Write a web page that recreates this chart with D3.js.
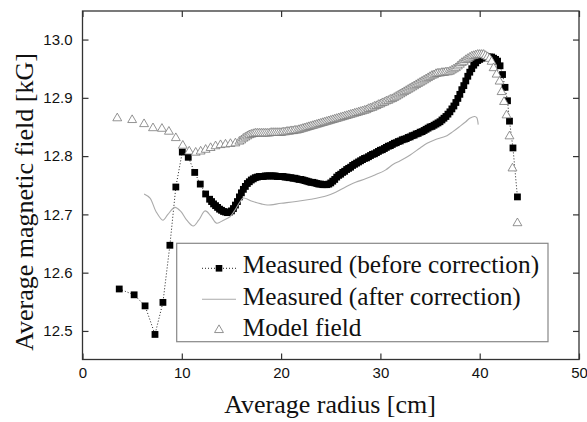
<!DOCTYPE html>
<html>
<head>
<meta charset="utf-8">
<script src="https://cdn.jsdelivr.net/npm/d3@7"></script>
<style>
  body { margin: 0; background: #fff; }
</style>
</head>
<body>
<div id="canvas"></div>
<script>
// Measured (before correction): radius [cm], field [kG]
const beforeR = [3.7, 5.2, 6.3, 7.3, 8.1, 8.8, 9.4, 10.05, 10.65, 11.3, 11.86, 12.4,
  12.8, 13.0, 13.2, 13.4, 13.6, 13.8, 14.0, 14.2, 14.4, 14.6, 14.8, 15.0, 15.2, 15.4, 15.6, 15.8,
  16.0, 16.2, 16.4, 16.6, 16.8, 17.0, 17.2, 17.4, 17.6, 17.8, 18.0, 18.2, 18.4, 18.6, 18.8,
  19.0, 19.2, 19.4, 19.6, 19.8, 20.0, 20.2, 20.4, 20.6, 20.8, 21.0, 21.2, 21.4, 21.6, 21.8,
  22.0, 22.2, 22.4, 22.6, 22.8, 23.0, 23.2, 23.4, 23.6, 23.8, 24.0, 24.2, 24.4, 24.6, 24.8,
  25.0, 25.2, 25.4, 25.6, 25.8, 26.0, 26.2, 26.4, 26.6, 26.8, 27.0, 27.2, 27.4, 27.6, 27.8,
  28.0, 28.2, 28.4, 28.6, 28.8, 29.0, 29.2, 29.4, 29.6, 29.8, 30.0, 30.2, 30.4, 30.6, 30.8,
  31.0, 31.2, 31.4, 31.6, 31.8, 32.0, 32.2, 32.4, 32.6, 32.8, 33.0, 33.2, 33.4, 33.6, 33.8,
  34.0, 34.2, 34.4, 34.6, 34.8, 35.0, 35.2, 35.4, 35.6, 35.8, 36.0, 36.2, 36.4, 36.6, 36.8,
  37.0, 37.2, 37.4, 37.6, 37.8, 38.0, 38.2, 38.4, 38.6, 38.8, 39.0, 39.2, 39.4, 39.6, 39.8,
  40.0, 40.2, 40.4, 40.6, 40.8, 41.0, 41.2, 41.4, 41.6, 41.8,
  42.05, 42.3, 42.55, 42.8, 43.0, 43.35, 43.8]
const beforeB = [12.572, 12.562, 12.543, 12.494, 12.549, 12.647, 12.747, 12.807, 12.798, 12.772, 12.752, 12.735,
  12.726, 12.722, 12.718, 12.715, 12.712, 12.709, 12.707, 12.705, 12.704, 12.703, 12.704, 12.706, 12.71, 12.716, 12.722, 12.73,
  12.737, 12.743, 12.748, 12.753, 12.756, 12.759, 12.761, 12.763, 12.764, 12.765, 12.765, 12.765, 12.766, 12.766, 12.766,
  12.766, 12.766, 12.766, 12.765, 12.765, 12.765, 12.765, 12.764, 12.764, 12.763, 12.763, 12.762, 12.762, 12.761, 12.76,
  12.76, 12.759, 12.758, 12.757, 12.756, 12.755, 12.755, 12.754, 12.753, 12.752, 12.752, 12.751, 12.751, 12.751, 12.752,
  12.754, 12.757, 12.76, 12.764, 12.767, 12.769, 12.772, 12.774, 12.777, 12.779, 12.781, 12.784, 12.786, 12.788, 12.79,
  12.792, 12.794, 12.796, 12.797, 12.799, 12.801, 12.803, 12.804, 12.806, 12.808, 12.81, 12.811, 12.813, 12.815, 12.817,
  12.818, 12.82, 12.822, 12.823, 12.825, 12.826, 12.828, 12.829, 12.83, 12.832, 12.833, 12.835, 12.836, 12.838, 12.839,
  12.841, 12.842, 12.844, 12.846, 12.848, 12.85, 12.851, 12.853, 12.855, 12.857, 12.859, 12.862, 12.865, 12.868, 12.872,
  12.876, 12.881, 12.886, 12.892, 12.899, 12.906, 12.914, 12.921, 12.929, 12.937, 12.944, 12.95, 12.956, 12.96, 12.964,
  12.966, 12.968, 12.969, 12.97, 12.97, 12.97, 12.97, 12.968, 12.966, 12.963,
  12.955, 12.94, 12.918, 12.895, 12.86, 12.814, 12.73]

// Measured (after correction)
const afterR = [6.2, 6.8, 7.4, 8.1, 8.6, 9.3, 9.9, 10.5, 11.15, 11.7, 12.35, 12.9, 13.5,
  14.2, 14.85, 15.3, 15.8, 16.2, 17.0, 18.0, 18.6, 20.0, 21.5, 23.0, 24.6, 25.5, 26.5,
  27.5, 28.5, 29.5, 30.5, 31.3, 32.0, 33.0, 34.0, 34.7, 35.5, 36.2, 36.7, 37.3, 38.0,
  38.6, 39.0, 39.5, 39.7, 39.85]
const afterB = [12.735, 12.728, 12.705, 12.69, 12.7, 12.712, 12.705, 12.69, 12.68, 12.69, 12.706, 12.698, 12.685,
  12.69, 12.696, 12.706, 12.72, 12.728, 12.723, 12.718, 12.716, 12.719, 12.722, 12.726, 12.732, 12.738, 12.747,
  12.755, 12.761, 12.768, 12.776, 12.786, 12.792, 12.802, 12.814, 12.822, 12.828, 12.832, 12.835, 12.842, 12.851,
  12.859, 12.865, 12.868, 12.866, 12.854]

// Model field
const modelR = [3.5, 5.0, 6.2, 7.1, 8.0, 8.7, 9.4, 10.1, 10.75, 11.4, 11.9, 12.4, 12.9,
  13.4, 13.9, 14.4, 14.9, 15.4, 15.8,
  16.0, 16.2, 16.4, 16.6, 16.8, 17.0, 17.2, 17.4, 17.6, 17.8, 18.0, 18.2, 18.4, 18.6, 18.8,
  19.0, 19.2, 19.4, 19.6, 19.8, 20.0, 20.2, 20.4, 20.6, 20.8, 21.0, 21.2, 21.4, 21.6, 21.8,
  22.0, 22.2, 22.4, 22.6, 22.8, 23.0, 23.2, 23.4, 23.6, 23.8, 24.0, 24.2, 24.4, 24.6, 24.8,
  25.0, 25.2, 25.4, 25.6, 25.8, 26.0, 26.2, 26.4, 26.6, 26.8, 27.0, 27.2, 27.4, 27.6, 27.8,
  28.0, 28.2, 28.4, 28.6, 28.8, 29.0, 29.2, 29.4, 29.6, 29.8, 30.0, 30.2, 30.4, 30.6, 30.8,
  31.0, 31.2, 31.4, 31.6, 31.8, 32.0, 32.2, 32.4, 32.6, 32.8, 33.0, 33.2, 33.4, 33.6, 33.8,
  34.0, 34.2, 34.4, 34.6, 34.8, 35.0, 35.2, 35.4, 35.6, 35.8, 36.0, 36.2, 36.4, 36.6, 36.8,
  37.0, 37.2, 37.4, 37.6, 37.8, 38.0, 38.2, 38.4, 38.6, 38.8, 39.0, 39.2, 39.4, 39.6, 39.8,
  40.0, 40.2, 40.4, 40.6, 40.8, 41.0, 41.2,
  41.4, 41.7, 42.0, 42.2, 42.45, 42.7, 43.0, 43.3, 43.8]
const modelB = [12.865, 12.862, 12.855, 12.848, 12.847, 12.842, 12.831, 12.818, 12.808, 12.806, 12.808, 12.811, 12.814,
  12.817, 12.819, 12.82, 12.821, 12.822, 12.825,
  12.827, 12.83, 12.832, 12.834, 12.836, 12.837, 12.838, 12.839, 12.839, 12.839, 12.839, 12.839, 12.839, 12.839, 12.839,
  12.84, 12.84, 12.84, 12.84, 12.84, 12.84, 12.841, 12.841, 12.842, 12.842, 12.843, 12.843, 12.844, 12.844, 12.845,
  12.846, 12.847, 12.848, 12.849, 12.85, 12.851, 12.852, 12.853, 12.854, 12.855, 12.856, 12.857, 12.858, 12.859, 12.86,
  12.861, 12.862, 12.863, 12.864, 12.865, 12.866, 12.867, 12.868, 12.869, 12.87, 12.871, 12.872, 12.873, 12.874, 12.875,
  12.876, 12.877, 12.878, 12.879, 12.881, 12.882, 12.883, 12.885, 12.886, 12.888, 12.889, 12.891, 12.892, 12.894, 12.895,
  12.897, 12.898, 12.9, 12.902, 12.904, 12.906, 12.908, 12.91, 12.912, 12.914, 12.916, 12.918, 12.92, 12.922, 12.924,
  12.926, 12.928, 12.93, 12.932, 12.934, 12.936, 12.938, 12.939, 12.941, 12.942, 12.942, 12.943, 12.943, 12.944, 12.944,
  12.945, 12.947, 12.949, 12.951, 12.954, 12.957, 12.96, 12.962, 12.965, 12.967, 12.969, 12.971, 12.972, 12.973, 12.974,
  12.974, 12.974, 12.974, 12.972, 12.97, 12.967, 12.962,
  12.951, 12.94, 12.928, 12.91, 12.893, 12.87, 12.834, 12.779, 12.685]

const xTicks = [0, 10, 20, 30, 40, 50]
const yTicks = [12.5, 12.6, 12.7, 12.8, 12.9, 13.0]
const legendLabels = ['Measured (before correction)', 'Measured (after correction)', 'Model field']

const zip = (xs, ys) => xs.map((r, i) => ({ r: r, b: ys[i] }))
const before = zip(beforeR, beforeB)
const after = zip(afterR, afterB)
const model = zip(modelR, modelB)

const width = 587
const height = 422
const margin = { top: 11, left: 82.5, bottom: 62.5, right: 8 }
const iwidth = width - margin.left - margin.right
const iheight = height - margin.top - margin.bottom

const sans = "Arial, 'Liberation Sans', sans-serif"
const serif = "'Times New Roman', 'Liberation Serif', serif"

const svg = d3.select('#canvas').append('svg')
  .attr('width', width)
  .attr('height', height)

const g = svg.append('g')
  .attr('transform', `translate(${margin.left},${margin.top})`)

const x = d3.scaleLinear().domain([0, 50]).range([0, iwidth])
const y = d3.scaleLinear().domain([12.451, 13.049]).range([iheight, 0])

// axes, ticks pointing inwards
const styleAxis = (sel) => {
  sel.select('.domain').remove()
  sel.selectAll('.tick line').attr('stroke', '#333').attr('stroke-width', 1.2)
  sel.selectAll('.tick text').attr('fill', '#111')
    .style('font-family', sans).style('font-size', '15px')
}
g.append('g')
  .attr('transform', `translate(0,${iheight})`)
  .call(d3.axisBottom(x).tickValues(xTicks).tickSize(-6).tickPadding(8).tickFormat(d3.format('d')))
  .call(styleAxis)
g.append('g')
  .call(d3.axisTop(x).tickValues(xTicks).tickSize(-6).tickFormat(''))
  .call(styleAxis)
g.append('g')
  .call(d3.axisLeft(y).tickValues(yTicks).tickSize(-6).tickPadding(10).tickFormat(d3.format('.1f')))
  .call(styleAxis)
g.append('g')
  .attr('transform', `translate(${iwidth},0)`)
  .call(d3.axisRight(y).tickValues(yTicks).tickSize(-6).tickFormat(''))
  .call(styleAxis)

// before correction: dotted line + squares
const line = d3.line().x((d) => x(d.r)).y((d) => y(d.b))
g.append('path')
  .datum(before)
  .attr('d', line)
  .attr('fill', 'none')
  .attr('stroke', '#222')
  .attr('stroke-width', 1)
  .attr('stroke-dasharray', '1,2')
g.selectAll('.sq')
  .data(before)
  .enter()
  .append('rect')
  .attr('class', 'sq')
  .attr('x', (d) => x(d.r) - 3.4)
  .attr('y', (d) => y(d.b) - 3.4)
  .attr('width', 6.8)
  .attr('height', 6.8)
  .attr('fill', '#000')

// after correction
g.append('path')
  .datum(after)
  .attr('d', line.curve(d3.curveCatmullRom))
  .attr('fill', 'none')
  .attr('stroke', '#aaa')
  .attr('stroke-width', 1.1)

// model field triangles
const tri = d3.symbol().type(d3.symbolTriangle).size(34)
g.selectAll('.tri')
  .data(model)
  .enter()
  .append('path')
  .attr('class', 'tri')
  .attr('d', tri)
  .attr('transform', (d) => `translate(${x(d.r)},${y(d.b)})`)
  .attr('fill', '#fff')
  .attr('stroke', '#777')
  .attr('stroke-width', 0.8)

// frame
g.append('rect')
  .attr('width', iwidth)
  .attr('height', iheight)
  .attr('fill', 'none')
  .attr('stroke', '#333')
  .attr('stroke-width', 1.3)

// legend
const lg = svg.append('g')
lg.append('rect')
  .attr('x', 176.7).attr('y', 243.3)
  .attr('width', 371.3).attr('height', 98.4)
  .attr('fill', '#fff')
  .attr('stroke', '#888')
  .attr('stroke-width', 1.2)
const rows = [268.3, 299.3, 330]
lg.append('line')
  .attr('x1', 202).attr('x2', 236).attr('y1', rows[0]).attr('y2', rows[0])
  .attr('stroke', '#222').attr('stroke-dasharray', '1,2')
lg.append('rect')
  .attr('x', 219 - 3.3).attr('y', rows[0] - 3.3)
  .attr('width', 6.6).attr('height', 6.6)
lg.append('line')
  .attr('x1', 202).attr('x2', 236).attr('y1', rows[1]).attr('y2', rows[1])
  .attr('stroke', '#aaa').attr('stroke-width', 1.1)
lg.append('path')
  .attr('d', tri)
  .attr('transform', `translate(219,${rows[2]})`)
  .attr('fill', '#fff').attr('stroke', '#777').attr('stroke-width', 0.8)
lg.selectAll('.lt')
  .data(legendLabels)
  .enter()
  .append('text')
  .attr('x', 242.7)
  .attr('y', (d, i) => [273.3, 305, 336][i])
  .style('font-family', serif)
  .style('font-size', '25.3px')
  .attr('fill', '#111')
  .text((d) => d)

// axis titles
svg.append('text')
  .attr('text-anchor', 'middle')
  .attr('x', 330)
  .attr('y', 413)
  .style('font-family', serif)
  .style('font-size', '26px')
  .attr('fill', '#111')
  .text('Average radius [cm]')
svg.append('text')
  .attr('text-anchor', 'middle')
  .attr('transform', 'translate(33,202) rotate(-90)')
  .style('font-family', serif)
  .style('font-size', '26px')
  .attr('fill', '#111')
  .text('Average magnetic field [kG]')
</script>
</body>
</html>
